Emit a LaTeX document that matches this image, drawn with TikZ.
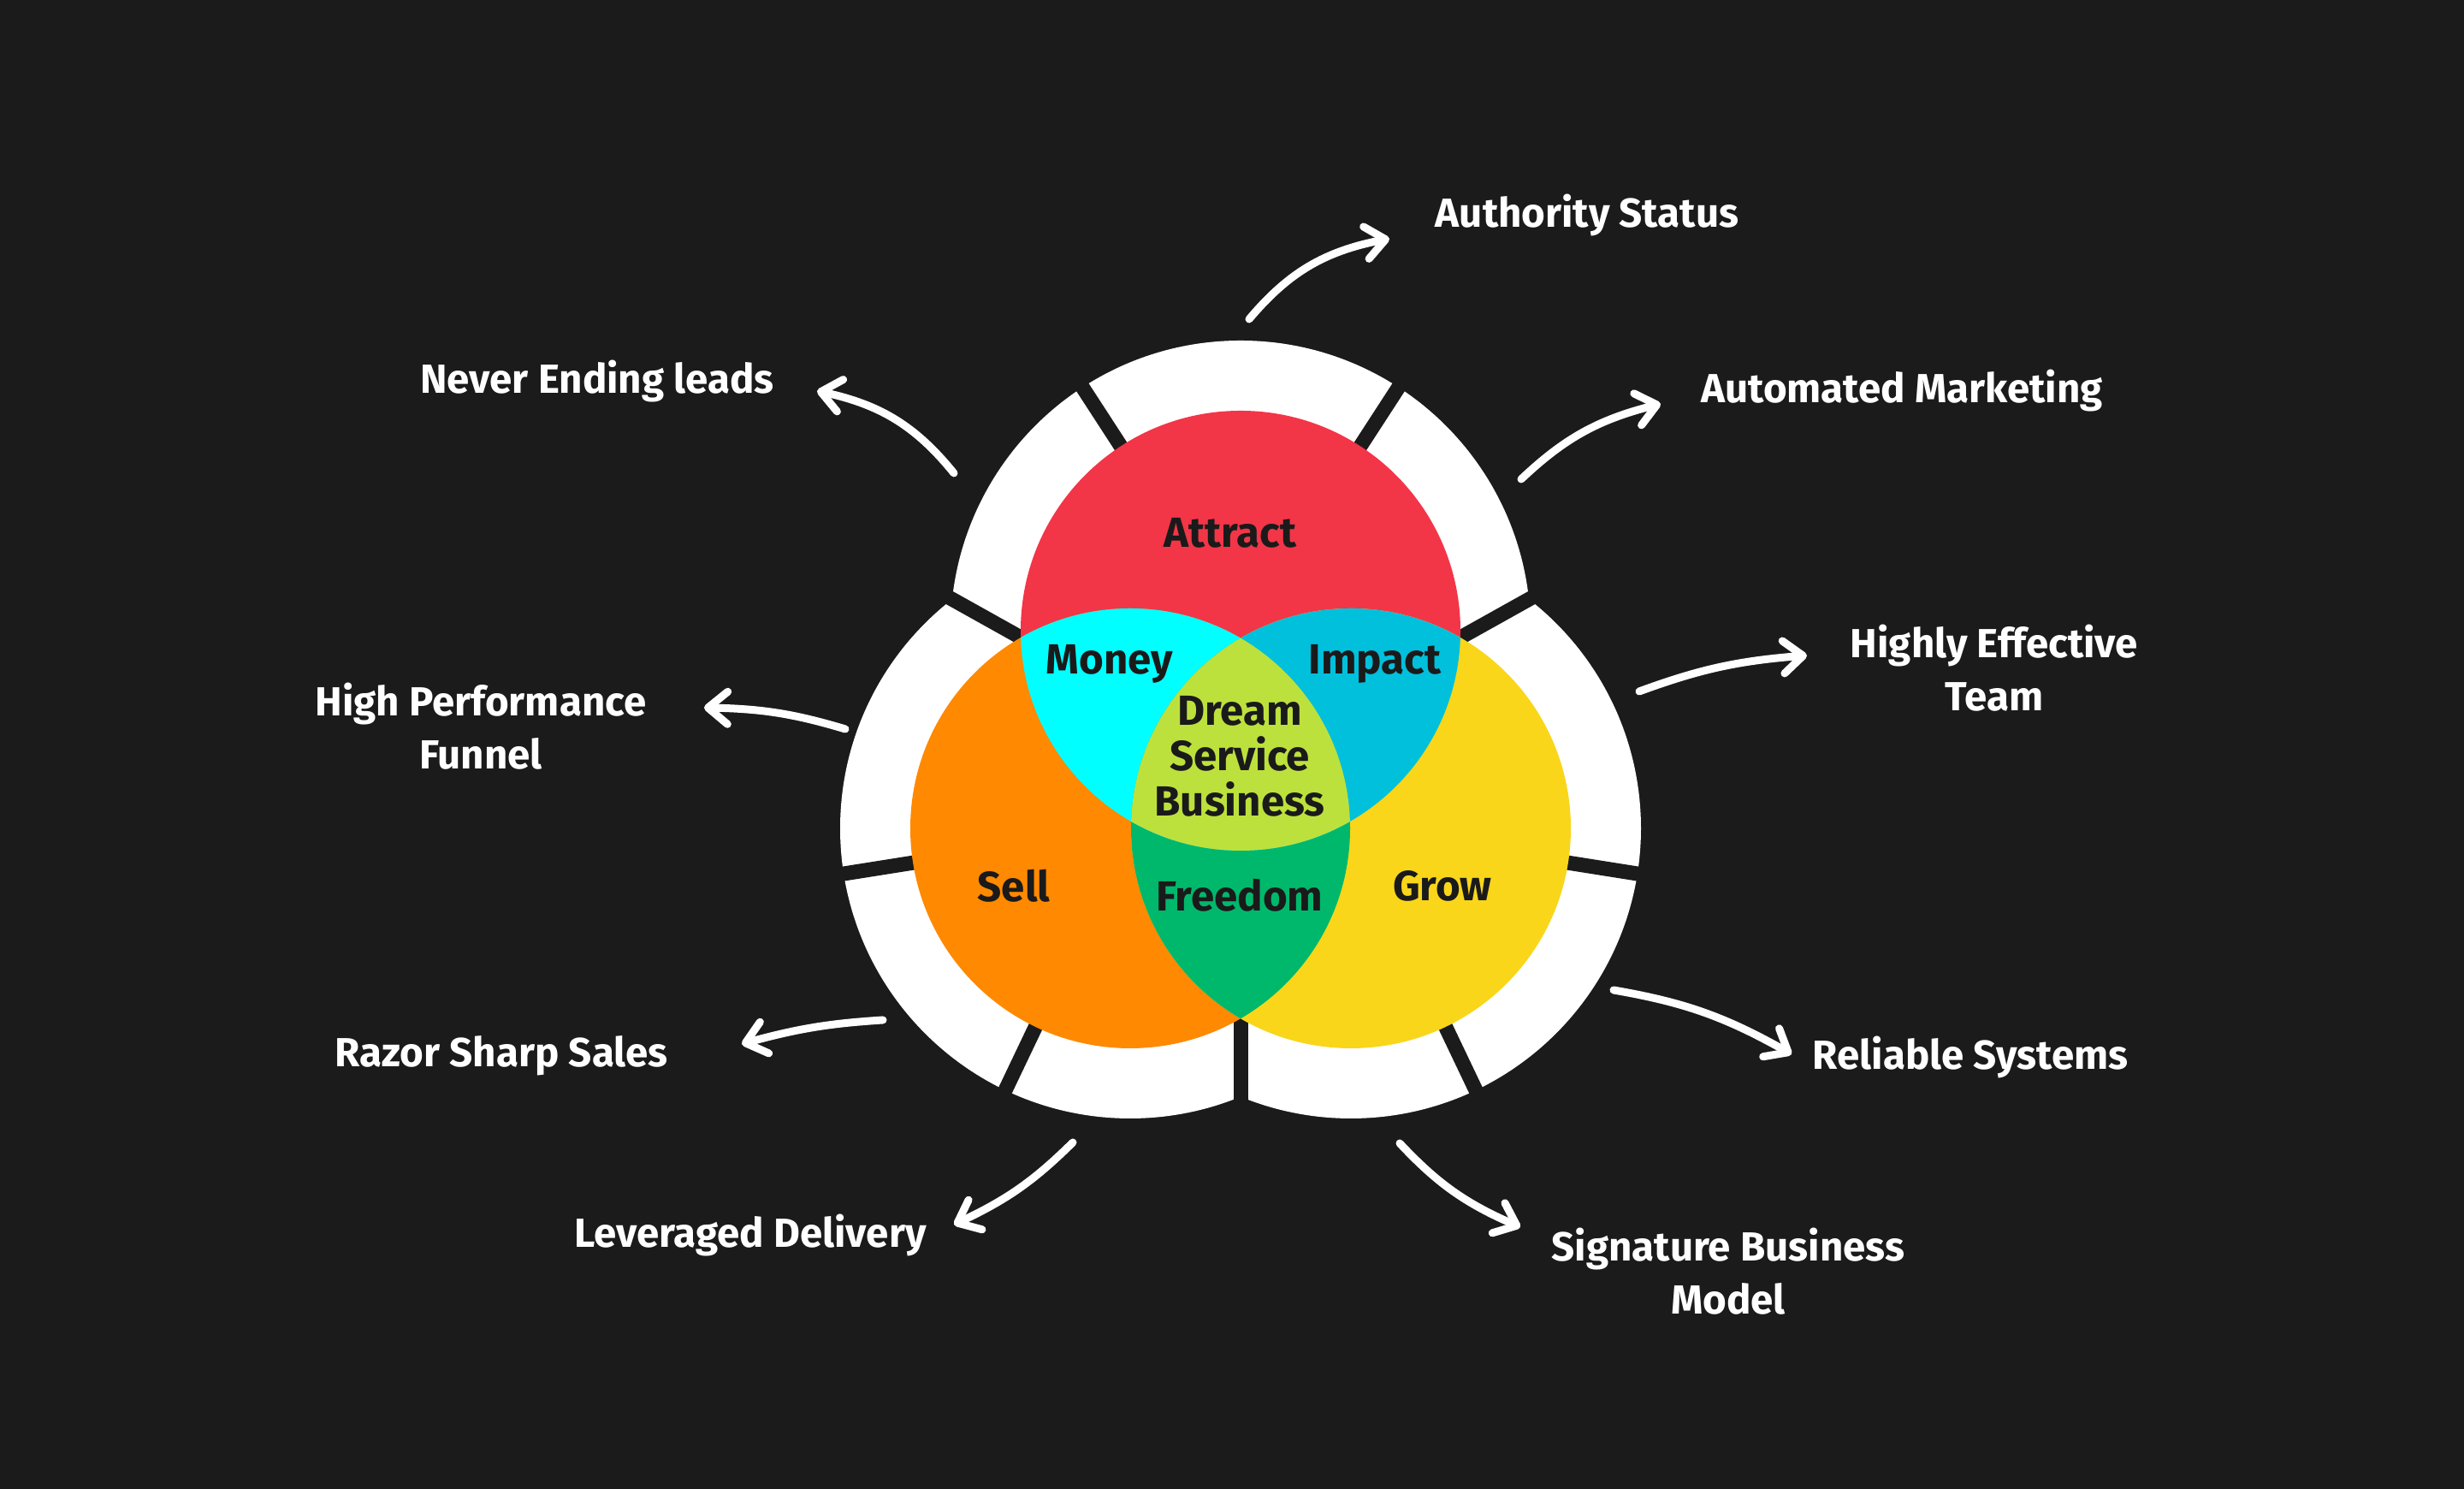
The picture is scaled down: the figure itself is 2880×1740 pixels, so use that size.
\documentclass[tikz,border=0pt]{standalone}
\usepackage{fontspec}
\setmainfont{Fira Sans}
\usetikzlibrary{arrows.meta,calc,bending}
\definecolor{bg}{HTML}{1B1B1B}
\definecolor{cred}{HTML}{F33548}
\definecolor{corange}{HTML}{FF8900}
\definecolor{cyellow}{HTML}{F9D619}
\definecolor{ccyan}{HTML}{00FFFF}
\definecolor{cimpact}{HTML}{00C0DC}
\definecolor{cgreen}{HTML}{00B86C}
\definecolor{clime}{HTML}{BDE13C}
\definecolor{ink}{HTML}{1A1A1A}
\begin{document}
\begin{tikzpicture}[x=0.01cm,y=0.01cm,
  outlbl/.style={text=white,font=\fontsize{13.5pt}{17.6pt}\selectfont\bfseries,align=center,inner sep=0pt},
  vlbl/.style={text=ink,font=\fontsize{14pt}{15pt}\selectfont\bfseries,align=center,inner sep=0pt},
  gapline/.style={draw=bg,line width=0.17cm},
  arr/.style={draw=white,line width=0.09cm,line cap=round,-{Straight Barb[length=0.23cm,width=0.38cm,round]}}]
\fill[bg] (0,0) rectangle (2880,1740);
\useasboundingbox (0,0) rectangle (2880,1740);
\coordinate (R) at (1450,1003);
\coordinate (O) at (1321,772);
\coordinate (Y) at (1579,772);
% white ring
\fill[white] (R) circle[radius=339] (O) circle[radius=339] (Y) circle[radius=339];
% gaps
\draw[gapline] ($(R)+(57:240)$) -- ($(R)+(57:360)$);
\draw[gapline] ($(R)+(123:240)$) -- ($(R)+(123:360)$);
\draw[gapline] ($(O)+(189:240)$) -- ($(O)+(189:360)$);
\draw[gapline] ($(O)+(244.5:240)$) -- ($(O)+(244.5:360)$);
\draw[gapline] ($(Y)+(-9:240)$) -- ($(Y)+(-9:360)$);
\draw[gapline] ($(Y)+(-64.5:240)$) -- ($(Y)+(-64.5:360)$);
\draw[gapline] (1210.9,985) -- (1071.2,1063);
\draw[gapline] (1689.1,985) -- (1828.8,1063);
\draw[gapline] (1450,560) -- (1450,420);
% venn
\fill[cred] (R) circle[radius=257];
\fill[corange] (O) circle[radius=257];
\fill[cyellow] (Y) circle[radius=257];
\begin{scope}
  \clip (O) circle[radius=257];
  \fill[cgreen] (Y) circle[radius=257];
\end{scope}
\begin{scope}
  \clip (R) circle[radius=257];
  \fill[ccyan] (O) circle[radius=257];
  \fill[cimpact] (Y) circle[radius=257];
  \clip (O) circle[radius=257];
  \fill[clime] (Y) circle[radius=257];
\end{scope}
% venn labels
\node[vlbl] (attract) at (1438,1117) {Attract};
\node[vlbl] (money) at (1297,964) {Money};
\node[vlbl] (impact) at (1607,964) {Impact};
\node[vlbl] (dream) at (1449,856) {Dream\\Service\\Business};
\node[vlbl] (sell) at (1185,705) {Sell};
\node[vlbl] (freedom) at (1449,694) {Freedom};
\node[vlbl] (grow) at (1686,705) {Grow};
% outer labels
\node[outlbl] (authority) at (1855,1488) {Authority Status};
\node[outlbl] (leads) at (698,1294) {Never Ending leads};
\node[outlbl] (automated) at (2223,1283) {Automated Marketing};
\node[outlbl] (funnel) at (562,891) {High Performance\\Funnel};
\node[outlbl] (team) at (2331,959) {Highly Effective\\Team};
\node[outlbl] (razor) at (586,506) {Razor Sharp Sales};
\node[outlbl] (reliable) at (2303,504) {Reliable Systems};
\node[outlbl] (leveraged) at (877,296) {Leveraged Delivery};
\node[outlbl] (signature) at (2020,254) {Signature Business\\Model};
% arrows
\coordinate (a1t) at (1460,1367); \coordinate (a1h) at (1624,1461);
\coordinate (a2t) at (1778,1180); \coordinate (a2h) at (1941,1268);
\coordinate (a3t) at (1115,1187); \coordinate (a3h) at (955,1283);
\coordinate (a4t) at (988,888);   \coordinate (a4h) at (823,913);
\coordinate (a5t) at (1916,932);  \coordinate (a5h) at (2112,974);
\coordinate (a6t) at (1032,548);  \coordinate (a6h) at (867,520);
\coordinate (a7t) at (1886,583);  \coordinate (a7h) at (2094,508);
\coordinate (a8t) at (1254,405);  \coordinate (a8h) at (1115,309);
\coordinate (a9t) at (1636,404);  \coordinate (a9h) at (1777,306);
\draw[arr] (a1t) to[bend left=20] (a1h);
\draw[arr] (a2t) to[bend left=15] (a2h);
\draw[arr] (a3t) to[bend right=20] (a3h);
\draw[arr] (a4t) to[bend right=8] (a4h);
\draw[arr] (a5t) to[bend left=8] (a5h);
\draw[arr] (a6t) to[bend right=6] (a6h);
\draw[arr] (a7t) to[bend left=10] (a7h);
\draw[arr] (a8t) to[bend left=10] (a8h);
\draw[arr] (a9t) to[bend right=12] (a9h);
\end{tikzpicture}
\end{document}
